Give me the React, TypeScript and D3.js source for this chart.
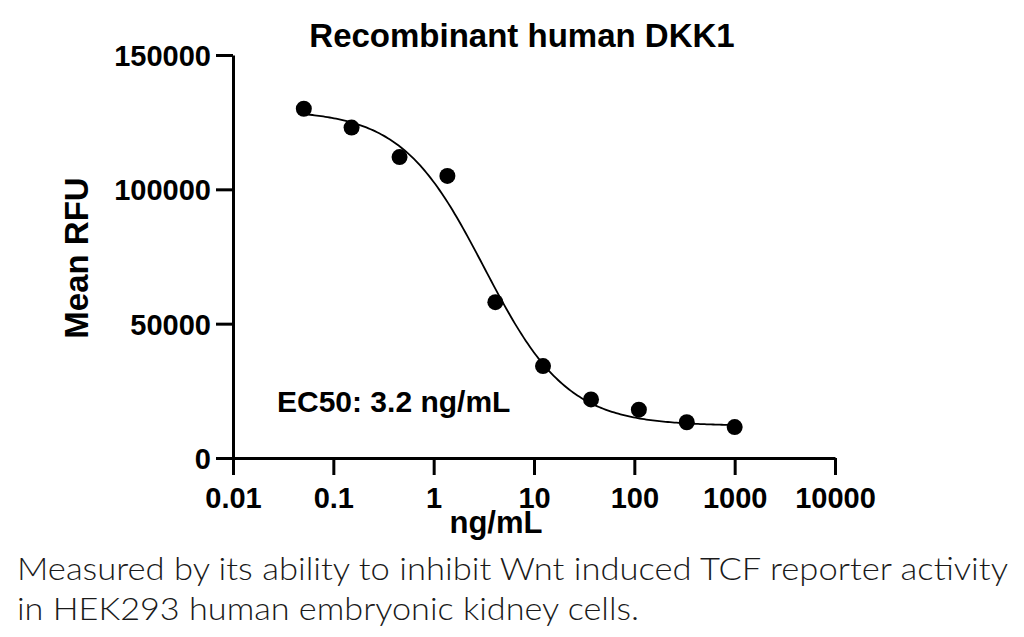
import * as d3 from "d3";
import { useEffect, useRef } from "react";

// Dose series (3-fold dilutions, ng/mL) and measured mean RFU
const concentrations = [0.0508, 0.152, 0.457, 1.37, 4.12, 12.3, 37.0, 111, 333, 1000];
const meanRfu = [130000, 123000, 112000, 105000, 58000, 34200, 21800, 18000, 13300, 11500];

const xTicks = [0.01, 0.1, 1, 10, 100, 1000, 10000];
const yTicks = [0, 50000, 100000, 150000];

// 4-parameter logistic fit
const fitTop = 129500;
const fitBottom = 12000;
const fitEc50 = 3.2;
const fitHill = 1.05;

const title = "Recombinant human DKK1";
const xLabel = "ng/mL";
const yLabel = "Mean RFU";
const ec50Label = "EC50: 3.2 ng/mL";
const captionLines = [
    "Measured by its ability to inhibit Wnt induced TCF reporter activity",
    "in HEK293 human embryonic kidney cells.",
];

const WIDTH = 1024;
const HEIGHT = 637;
const FONT = "'Liberation Sans', Arial, Helvetica, sans-serif";

function logistic(x: number) {
    return fitBottom + (fitTop - fitBottom) / (1 + Math.pow(x / fitEc50, fitHill));
}

export default function App() {
    const svgRef = useRef<SVGSVGElement | null>(null);

    useEffect(() => {
        const svg = d3.select(svgRef.current);
        svg.selectAll("*").remove();

        const x = d3.scaleLog().domain([0.01, 10000]).range([233, 835]);
        const y = d3.scaleLinear().domain([0, 150000]).range([458, 55]);

        svg.append("rect")
            .attr("width", WIDTH)
            .attr("height", HEIGHT)
            .attr("fill", "#ffffff");

        // Title
        svg.append("text")
            .attr("x", 522)
            .attr("y", 47)
            .attr("text-anchor", "middle")
            .attr("font-family", FONT)
            .attr("font-weight", "bold")
            .attr("font-size", "33px")
            .attr("fill", "#000")
            .text(title);

        // X axis
        const xAxis = svg
            .append("g")
            .attr("transform", `translate(0,${y(0)})`)
            .call(
                d3
                    .axisBottom(x)
                    .tickValues(xTicks)
                    .tickSizeInner(17)
                    .tickSizeOuter(0)
                    .tickFormat((d) => String(d))
            );
        xAxis.select(".domain").attr("stroke", "#000").attr("stroke-width", 3);
        xAxis.selectAll("line").attr("stroke", "#000").attr("stroke-width", 3);
        xAxis
            .selectAll("text")
            .attr("y", 50)
            .attr("dy", 0)
            .attr("fill", "#000")
            .attr("font-family", FONT)
            .attr("font-weight", "bold")
            .attr("font-size", "29px");

        // Y axis
        const yAxis = svg
            .append("g")
            .attr("transform", `translate(${x(0.01)},0)`)
            .call(
                d3
                    .axisLeft(y)
                    .tickValues(yTicks)
                    .tickSizeInner(17)
                    .tickSizeOuter(0)
                    .tickFormat((d) => String(d))
            );
        yAxis.select(".domain").attr("stroke", "#000").attr("stroke-width", 3);
        yAxis.selectAll("line").attr("stroke", "#000").attr("stroke-width", 3);
        yAxis
            .selectAll("text")
            .attr("x", -22)
            .attr("dy", "0.36em")
            .attr("fill", "#000")
            .attr("font-family", FONT)
            .attr("font-weight", "bold")
            .attr("font-size", "29px");

        // Axis titles
        svg.append("text")
            .attr("x", 496)
            .attr("y", 533)
            .attr("text-anchor", "middle")
            .attr("font-family", FONT)
            .attr("font-weight", "bold")
            .attr("font-size", "31px")
            .attr("fill", "#000")
            .text(xLabel);

        svg.append("text")
            .attr("transform", "translate(88,258) rotate(-90)")
            .attr("text-anchor", "middle")
            .attr("font-family", FONT)
            .attr("font-weight", "bold")
            .attr("font-size", "33px")
            .attr("fill", "#000")
            .text(yLabel);

        // Fitted curve
        const logMin = Math.log10(concentrations[0]);
        const logMax = Math.log10(concentrations[concentrations.length - 1]);
        const curve = d3.range(0, 201).map((i) => {
            const c = Math.pow(10, logMin + ((logMax - logMin) * i) / 200);
            return [c, logistic(c)] as [number, number];
        });
        const line = d3
            .line<[number, number]>()
            .x((d) => x(d[0]))
            .y((d) => y(d[1]))
            .curve(d3.curveLinear);
        svg.append("path")
            .attr("d", line(curve))
            .attr("fill", "none")
            .attr("stroke", "#000")
            .attr("stroke-width", 1.8);

        // Data points
        svg.append("g")
            .selectAll("circle")
            .data(concentrations)
            .enter()
            .append("circle")
            .attr("cx", (d) => x(d))
            .attr("cy", (_, i) => y(meanRfu[i]))
            .attr("r", 8)
            .attr("fill", "#000");

        // EC50 annotation
        svg.append("text")
            .attr("x", 277)
            .attr("y", 412)
            .attr("font-family", FONT)
            .attr("font-weight", "bold")
            .attr("font-size", "30px")
            .attr("fill", "#000")
            .text(ec50Label);

        // Caption
        const captionWidths = [991, 622];
        svg.append("g")
            .selectAll("text")
            .data(captionLines)
            .enter()
            .append("text")
            .attr("x", 17)
            .attr("y", (_, i) => 580 + i * 40)
            .attr("font-family", "Lato, 'Open Sans', 'DejaVu Sans', sans-serif")
            .attr("font-weight", 300)
            .attr("font-size", "31px")
            .attr("fill", "#1a1a1a")
            .attr("textLength", (_, i) => captionWidths[i])
            .attr("lengthAdjust", "spacingAndGlyphs")
            .text((d) => d);
    }, []);

    return (
        <svg
            ref={svgRef}
            width={WIDTH}
            height={HEIGHT}
            style={{ position: "absolute", left: 0, top: 0, display: "block" }}
        ></svg>
    );
}
